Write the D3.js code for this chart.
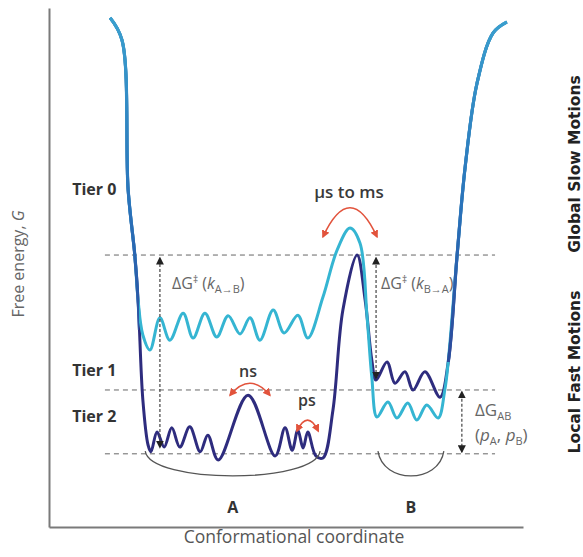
<!DOCTYPE html>
<html>
<head>
<meta charset="utf-8">
<script src="https://cdn.jsdelivr.net/npm/d3@7"></script>
<style>
  body { margin: 0; background: #fff; }
  text { font-family: "Open Sans", sans-serif; }
  text.side { font-family: "DejaVu Sans", sans-serif; }
</style>
</head>
<body>
<svg id="chart"></svg>
<script>
// conformational coordinate (0-100) vs free energy G (0-100)
const leftWall = [[12.9, 98.1], [15.4, 93.8], [16.7, 64.9], [18.1, 52.4], [18.8, 43.7]];
const rightWall = [[84.2, 31.6], [86.1, 52.4], [87.8, 69.4], [90.3, 85.5], [93.7, 95.2], [96.6, 97.3]];

// tier 0/1 landscape (cyan)
const cyanWell = [
  [19.8, 37.0], [21.3, 34.1], [23.4, 40.3], [25.5, 36.0], [28.3, 41.2], [30.4, 36.4],
  [32.9, 41.2], [35.4, 36.6], [37.8, 40.7], [40.3, 37.2], [42.4, 40.3], [44.5, 36.0],
  [47.3, 41.8], [49.6, 37.4], [52.5, 40.8], [54.6, 36.4], [57.8, 44.3], [60.8, 53.4],
  [63.5, 57.6], [65.6, 54.7], [67.1, 40.5], [68.1, 28.9], [69.2, 21.2], [71.5, 24.1],
  [73.4, 21.0], [75.7, 23.9], [77.6, 20.6], [79.7, 23.5], [82.1, 21.0], [83.5, 26.4]
];

// tier 2 landscape (navy)
const navyWell = [
  [19.8, 24.5], [20.9, 15.8], [21.5, 14.5], [22.8, 18.3], [24.3, 15.4], [25.9, 19.1],
  [27.6, 15.4], [29.7, 19.3], [31.9, 14.5], [33.5, 17.7], [35.7, 12.9], [42.0, 25.4],
  [47.7, 13.7], [49.8, 19.1], [51.3, 14.8], [52.5, 18.7], [53.6, 15.2], [54.6, 18.3],
  [56.3, 13.7], [57.8, 13.3], [59.9, 22.5], [62.0, 41.8], [65.0, 52.4], [66.7, 43.7],
  [68.1, 32.2], [69.0, 28.3], [71.3, 31.8], [73.0, 27.7], [75.1, 29.9], [76.8, 26.4],
  [79.3, 29.9], [82.5, 25.0]
];

const levels = [52.4, 26.4, 14.1];
const levelSpan = [11.8, 94.1];

const tierLabels = ["Tier 0", "Tier 1", "Tier 2"];
const tierG = [64.0, 29.1, 20.2];

const timeLabels = ["μs to ms", "ns", "ps"];
const timeArcs = [
  // x0, x1, G at ends, G at top, label x, label G
  [57.8, 69.2, 55.9, 61.5, 63.3, 63.4],
  [38.2, 46.6, 25.4, 27.7, 42.0, 28.9],
  [52.3, 56.8, 18.5, 20.6, 54.4, 23.3]
];

const gapArrows = [
  // x, G bottom, G top
  [23.4, 15.4, 51.8],
  [69.0, 28.7, 51.8],
  [87.1, 14.5, 26.0]
];

const stateLabels = ["A", "B"];
const brackets = [
  // x0, x1, G
  [20.3, 57.2, 12.3],
  [69.4, 83.3, 12.3]
];

const sideLabels = ["Global Slow Motions", "Local Fast Motions"];
const sideCenters = [164, 372];

const W = 583, H = 557;
const svg = d3.select("#chart").attr("width", W).attr("height", H);

const x = d3.scaleLinear().domain([0, 100]).range([49, 523]);
const y = d3.scaleLinear().domain([0, 100]).range([527, 8]);

const defs = svg.append("defs");
function arrowMarker(id, color, size) {
  defs.append("marker")
    .attr("id", id)
    .attr("viewBox", "0 0 10 10")
    .attr("refX", 8).attr("refY", 5)
    .attr("markerWidth", size).attr("markerHeight", size)
    .attr("markerUnits", "userSpaceOnUse")
    .attr("orient", "auto-start-reverse")
    .append("path")
    .attr("d", "M0,0L10,5L0,10Z")
    .attr("fill", color);
}
arrowMarker("arrBlack", "#222", 8);
arrowMarker("arrRed", "#e2533c", 8);

const wallGrad = defs.append("linearGradient")
  .attr("id", "wallGrad")
  .attr("gradientUnits", "userSpaceOnUse")
  .attr("x1", 0).attr("y1", 15).attr("x2", 0).attr("y2", 400);
wallGrad.append("stop").attr("offset", 0).attr("stop-color", "#3aa0cf");
wallGrad.append("stop").attr("offset", 0.5).attr("stop-color", "#2a72ba");
wallGrad.append("stop").attr("offset", 1).attr("stop-color", "#2c3f93");

const clip = defs.append("clipPath").attr("id", "wallClip");
clip.append("rect").attr("x", 0).attr("y", 0).attr("width", 139).attr("height", 330);
clip.append("rect").attr("x", 447).attr("y", 0).attr("width", 140).attr("height", 362);

// axes (plain lines, no ticks)
svg.append("g")
  .attr("transform", `translate(0,${y(0)})`)
  .call(d3.axisBottom(x).tickValues([]).tickSizeOuter(0))
  .select(".domain").attr("stroke", "#7a7a7a").attr("stroke-width", 2);
svg.append("g")
  .attr("transform", `translate(${x(0)},0)`)
  .call(d3.axisLeft(y).tickValues([]).tickSizeOuter(0))
  .select(".domain").attr("stroke", "#7a7a7a").attr("stroke-width", 2);

// dashed energy levels
svg.selectAll(".level").data(levels).join("line")
  .attr("class", "level")
  .attr("x1", x(levelSpan[0])).attr("x2", x(levelSpan[1]))
  .attr("y1", d => y(d)).attr("y2", d => y(d))
  .attr("stroke", "#666").attr("stroke-width", 1)
  .attr("stroke-dasharray", "5,4");

// landscapes
const line = d3.line().x(d => x(d[0])).y(d => y(d[1])).curve(d3.curveCatmullRom.alpha(0.5));
const cyanPts = leftWall.concat(cyanWell, rightWall);
const navyPts = leftWall.concat(navyWell, rightWall);

svg.append("path").attr("d", line(navyPts))
  .attr("fill", "none").attr("stroke", "#2e2c7e").attr("stroke-width", 3);
svg.append("path").attr("d", line(cyanPts))
  .attr("fill", "none").attr("stroke", "#35b5d2").attr("stroke-width", 3);
svg.append("path").attr("d", line(navyPts))
  .attr("clip-path", "url(#wallClip)")
  .attr("fill", "none").attr("stroke", "url(#wallGrad)").attr("stroke-width", 3.2);

// vertical barrier / gap arrows
svg.selectAll(".gap").data(gapArrows).join("line")
  .attr("class", "gap")
  .attr("x1", d => x(d[0])).attr("x2", d => x(d[0]))
  .attr("y1", d => y(d[1])).attr("y2", d => y(d[2]))
  .attr("stroke", "#444").attr("stroke-width", 1.2)
  .attr("stroke-dasharray", "3,2")
  .attr("marker-start", "url(#arrBlack)")
  .attr("marker-end", "url(#arrBlack)");

// timescale arcs
const timeSize = [17, 16, 16];
timeArcs.forEach((a, i) => {
  const x0 = x(a[0]), x1 = x(a[1]), ye = y(a[2]), yt = y(a[3]);
  const cy = 2 * yt - ye;
  svg.append("path")
    .attr("d", `M${x0},${ye}Q${(x0 + x1) / 2},${cy} ${x1},${ye}`)
    .attr("fill", "none").attr("stroke", "#e2533c").attr("stroke-width", 1.6)
    .attr("marker-start", "url(#arrRed)")
    .attr("marker-end", "url(#arrRed)");
  svg.append("text")
    .attr("x", x(a[4])).attr("y", y(a[5]))
    .attr("text-anchor", "middle")
    .attr("font-size", timeSize[i]).attr("font-weight", 600).attr("fill", "#3a3a3a")
    .text(timeLabels[i]);
});

// state brackets
brackets.forEach((b, i) => {
  const x0 = x(b[0]), x1 = x(b[1]), yt = y(b[2]) - 12;
  const yb = yt + 33;
  svg.append("path")
    .attr("d", `M${x0},${yt}C${x0 + 5},${yb} ${x1 - 5},${yb} ${x1},${yt}`)
    .attr("fill", "none").attr("stroke", "#555").attr("stroke-width", 1.3);
  svg.append("text")
    .attr("x", (x0 + x1) / 2).attr("y", y(2.7))
    .attr("text-anchor", "middle")
    .attr("font-size", 16).attr("font-weight", 700).attr("fill", "#333")
    .text(stateLabels[i]);
});

// tier labels
svg.selectAll(".tier").data(tierLabels).join("text")
  .attr("class", "tier")
  .attr("x", x(4.9)).attr("y", (d, i) => y(tierG[i]))
  .attr("font-size", 16).attr("font-weight", 700).attr("fill", "#333")
  .text(d => d);

// barrier labels
function barrierLabel(px, py, from, to) {
  const t = svg.append("text").attr("x", px).attr("y", py)
    .attr("font-size", 16).attr("fill", "#666");
  t.append("tspan").text("ΔG");
  t.append("tspan").attr("dy", -6).attr("font-size", 10).text("‡");
  t.append("tspan").attr("dy", 6).text(" (");
  t.append("tspan").attr("font-style", "italic").text("k");
  t.append("tspan").attr("dy", 4).attr("font-size", 11).text(from + "→" + to);
  t.append("tspan").attr("dy", -4).text(")");
}
barrierLabel(172, 289, "A", "B");
barrierLabel(381, 289, "B", "A");

const gab = svg.append("text").attr("x", 475).attr("y", 416)
  .attr("font-size", 17).attr("fill", "#666");
gab.append("tspan").text("ΔG");
gab.append("tspan").attr("dy", 4).attr("font-size", 11).text("AB");
const pp = svg.append("text").attr("x", 475).attr("y", 441)
  .attr("font-size", 17).attr("fill", "#666");
pp.append("tspan").text("(");
pp.append("tspan").attr("font-style", "italic").text("p");
pp.append("tspan").attr("dy", 4).attr("font-size", 11).text("A");
pp.append("tspan").attr("dy", -4).text(", ");
pp.append("tspan").attr("font-style", "italic").text("p");
pp.append("tspan").attr("dy", 4).attr("font-size", 11).text("B");
pp.append("tspan").attr("dy", -4).text(")");

// axis titles
const yt = svg.append("text")
  .attr("transform", "translate(24,264) rotate(-90)")
  .attr("text-anchor", "middle")
  .attr("font-size", 16).attr("fill", "#666");
yt.append("tspan").text("Free energy, ");
yt.append("tspan").attr("font-style", "italic").text("G");

svg.append("text")
  .attr("x", 294).attr("y", 543)
  .attr("text-anchor", "middle")
  .attr("font-size", 17.5).attr("fill", "#555")
  .text("Conformational coordinate");

// right side labels
svg.selectAll(".side").data(sideLabels).join("text")
  .attr("class", "side")
  .attr("transform", (d, i) => `translate(580,${sideCenters[i]}) rotate(-90)`)
  .attr("text-anchor", "middle")
  .attr("font-size", 15.5).attr("font-weight", 700).attr("fill", "#222")
  .text(d => d);
</script>
</body>
</html>
